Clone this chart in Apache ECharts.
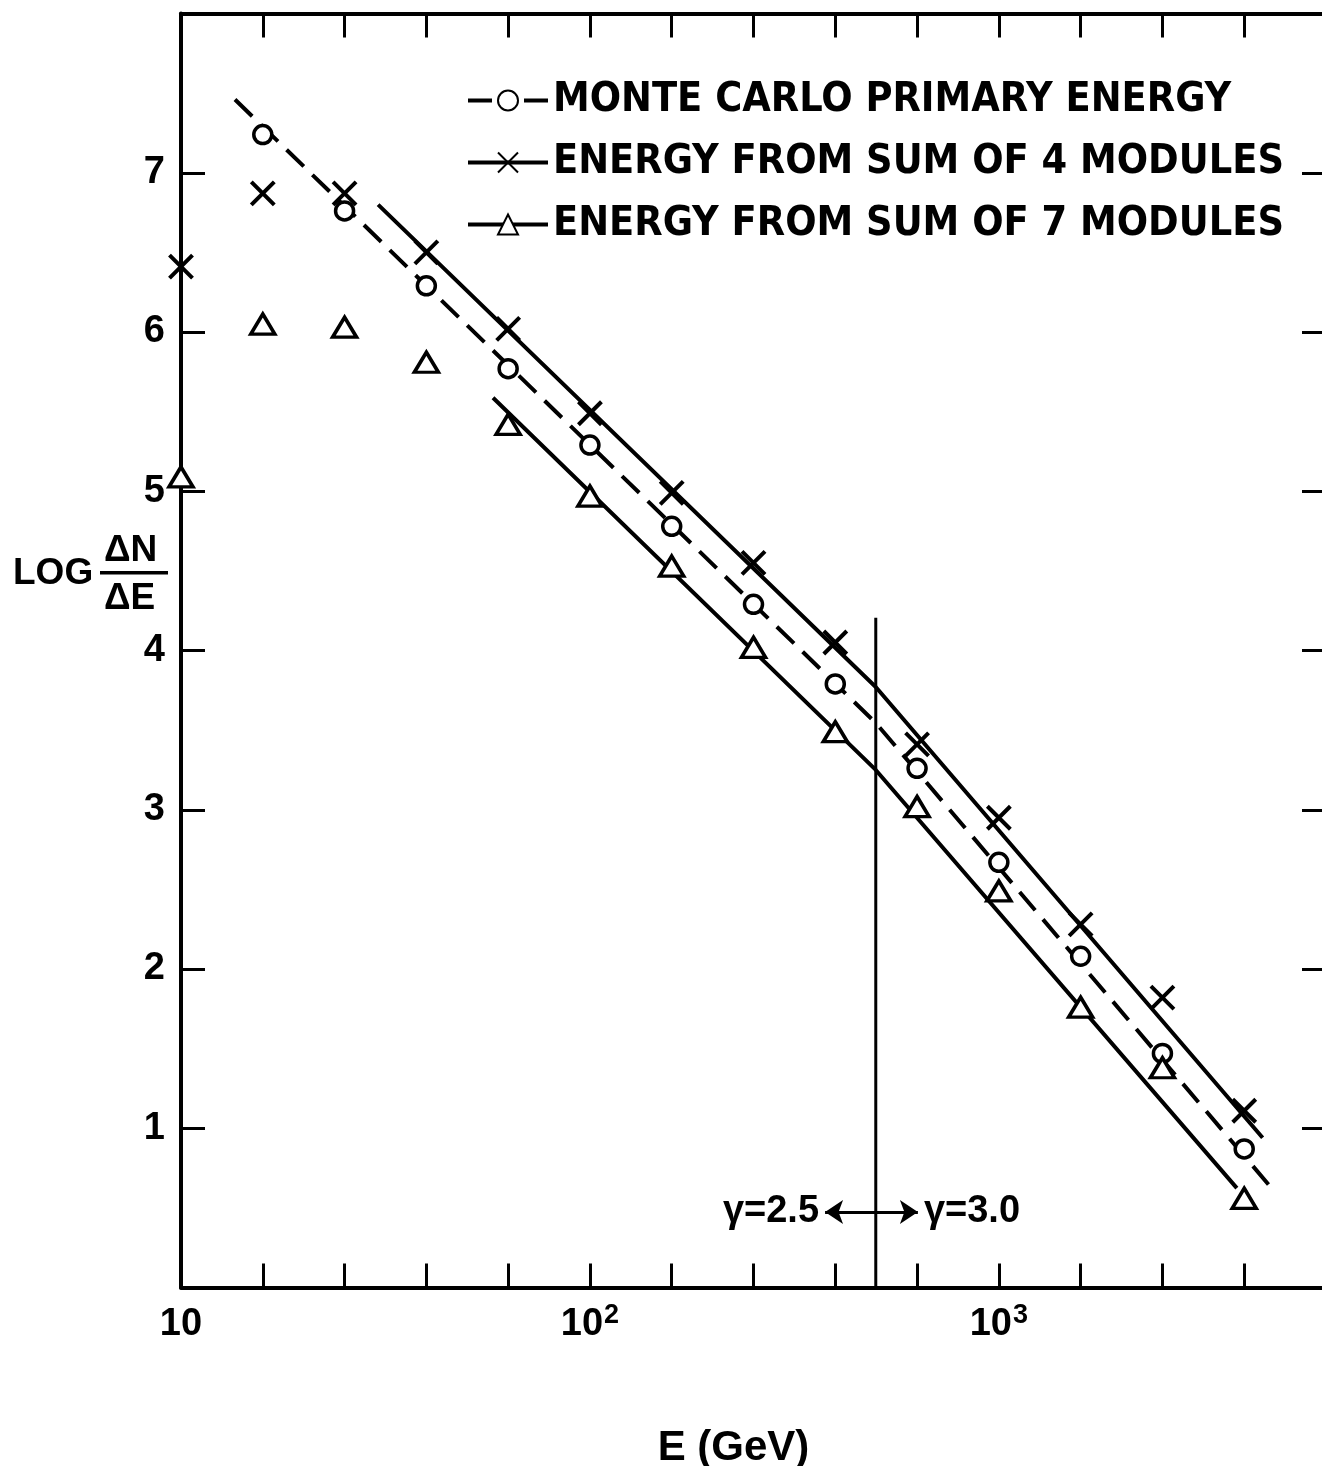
<!DOCTYPE html>
<html><head><meta charset="utf-8">
<script src="https://cdn.jsdelivr.net/npm/echarts@6/dist/echarts.min.js"></script>
<style>html,body{margin:0;padding:0;background:#fff}#c{width:1322px;height:1466px}</style>
</head><body><div id="c"></div>
<script>
// log10(E / GeV) positions of the measured points (0.2-decade steps)
const logE = [1.0, 1.2, 1.4, 1.6, 1.8, 2.0, 2.2, 2.4, 2.6, 2.8, 3.0, 3.2, 3.4, 3.6];
// LOG dN/dE values
const mcPrimary = [null, 7.24, 6.76, 6.29, 5.77, 5.29, 4.78, 4.29, 3.79, 3.26, 2.67, 2.08, 1.47, 0.87];
const sum4Modules = [6.41, 6.87, 6.87, 6.50, 6.02, 5.49, 4.99, 4.55, 4.05, 3.41, 2.95, 2.28, 1.82, 1.11];
const sum7Modules = [5.09, 6.05, 6.03, 5.81, 5.42, 4.97, 4.53, 4.02, 3.49, 3.02, 2.49, 1.76, 1.38, 0.56];
// fitted broken power laws (gamma 2.5 below the break, 3.0 above)
const fitMCx = [1.132, 2.699, 3.675];
const fitMCy = [7.46, 3.545, 0.60];
const fit4x = [1.482, 2.699, 3.645];
const fit4y = [6.80, 3.771, 0.94];
const fit7x = [1.763, 2.699, 3.582];
const fit7y = [5.587, 3.25, 0.624];
// break energy marker (vertical line) and spectral-index annotation
const breakX = [2.699, 2.699];
const breakY = [0, 4.205];
const gammaArrowY = 0.474;
const gammaArrowTips = [2.575, 2.802];
const gammaLabels = ['γ=2.5', 'γ=3.0'];
const seriesNames = ['MONTE CARLO PRIMARY ENERGY', 'ENERGY FROM SUM OF 4 MODULES', 'ENERGY FROM SUM OF 7 MODULES'];
const yTickLabels = ['1', '2', '3', '4', '5', '6', '7'];
// x tick labels at whole decades: base and exponent
const xDecadeBase = '10';
const xDecadeExponents = {1: '', 2: '2', 3: '3'};

const FONT = "'Liberation Sans', 'DejaVu Sans', sans-serif";
const NARROW = "'DejaVu Sans Condensed', 'Liberation Sans', sans-serif";
const K = '#000';

function pairs(xs, ys) { return xs.map((x, i) => [x, ys[i]]); }
function pts(ys) { return logE.map((x, i) => ys[i] == null ? null : [x, ys[i]]).filter(Boolean); }

const crossPath = 'path://M0,0L20,20M20,0L0,20';

const chart = echarts.init(document.getElementById('c'), null, {renderer: 'canvas'});
const xCommon = {
  type: 'value', min: 1, max: 3.8, interval: 0.2,
  axisLine: {show: true, onZero: false, lineStyle: {color: K, width: 4}},
  axisTick: {show: true, inside: true, length: 24, lineStyle: {color: K, width: 3}},
  splitLine: {show: false}
};
const yCommon = {
  type: 'value', min: 0, max: 8, interval: 1,
  axisLine: {show: true, onZero: false, lineStyle: {color: K, width: 4}},
  axisTick: {show: true, inside: true, length: 24, lineStyle: {color: K, width: 3}},
  splitLine: {show: false}
};

const option = {
  backgroundColor: '#fff',
  animation: false,
  grid: {left: 181, right: -4, top: 13.5, bottom: 178.5, containLabel: false, outerBoundsMode: 'none'},
  xAxis: [
    Object.assign({}, xCommon, {
      position: 'bottom',
      name: 'E (GeV)', nameLocation: 'middle', nameGap: 140,
      nameTextStyle: {fontFamily: FONT, fontWeight: 'bold', fontSize: 42, color: K, padding: [0, 40, 0, 0]},
      axisLabel: {
        show: true, margin: 16, showMinLabel: true, showMaxLabel: false,
        formatter: function (v) {
          const r = Math.round(v);
          if (Math.abs(v - r) > 1e-6 || !(r in xDecadeExponents)) return '';
          const e = xDecadeExponents[r];
          return e === '' ? '{b|' + xDecadeBase + '}' : '{b|' + xDecadeBase + '}{s|' + e + '}';
        },
        rich: {
          b: {fontFamily: FONT, fontWeight: 'bold', fontSize: 38, color: K, lineHeight: 40, verticalAlign: 'bottom'},
          s: {fontFamily: FONT, fontWeight: 'bold', fontSize: 27, color: K, lineHeight: 40, verticalAlign: 'bottom', padding: [0, 0, 14, 1]}
        }
      }
    }),
    Object.assign({}, xCommon, {position: 'top', axisLabel: {show: false}})
  ],
  yAxis: [
    Object.assign({}, yCommon, {
      position: 'left',
      axisLabel: {
        show: true, margin: 16, fontFamily: FONT, fontWeight: 'bold', fontSize: 38, color: K,
        formatter: function (v) { return v >= 1 && v <= 7 ? yTickLabels[v - 1] : ''; }
      }
    }),
    Object.assign({}, yCommon, {position: 'right', axisLabel: {show: false}})
  ],
  legend: {
    show: true, orient: 'vertical', left: 466, top: 80, padding: 0,
    itemWidth: 80, itemHeight: 25, itemGap: 21,
    textStyle: {fontFamily: NARROW, fontWeight: 'bold', fontSize: 41, color: K},
    selectedMode: false,
    data: [
      {name: seriesNames[0], lineStyle: {color: K, width: 4, type: [24, 32], opacity: 1}},
      {name: seriesNames[1], lineStyle: {color: K, width: 4, type: 'solid', opacity: 1}},
      {name: seriesNames[2], lineStyle: {color: K, width: 4, type: 'solid', opacity: 1}}
    ]
  },
  series: [
    {type: 'line', name: 'fitMC', data: pairs(fitMCx, fitMCy), symbol: 'none', z: 2,
     lineStyle: {color: K, width: 4, type: [24, 12]}, silent: true},
    {type: 'line', name: 'fit4', data: pairs(fit4x, fit4y), symbol: 'none', z: 2,
     lineStyle: {color: K, width: 4, type: 'solid'}, silent: true},
    {type: 'line', name: 'fit7', data: pairs(fit7x, fit7y), symbol: 'none', z: 2,
     lineStyle: {color: K, width: 4, type: 'solid'}, silent: true},
    {type: 'line', name: 'break', data: pairs(breakX, breakY), symbol: 'none', z: 2,
     lineStyle: {color: K, width: 3}, silent: true,
     markLine: {
       silent: true, symbol: ['none', 'arrow'], symbolSize: [18, 18],
       lineStyle: {color: K, width: 3, type: 'solid'},
       label: {show: true, position: 'end', distance: 6, formatter: '{b}',
               fontFamily: FONT, fontWeight: 'bold', fontSize: 38, color: K},
       data: [
         [{coord: [breakX[0], gammaArrowY]}, {coord: [gammaArrowTips[0], gammaArrowY], name: gammaLabels[0]}],
         [{coord: [breakX[0], gammaArrowY]}, {coord: [gammaArrowTips[1], gammaArrowY], name: gammaLabels[1]}]
       ]
     }},
    {type: 'line', name: seriesNames[0], data: pts(mcPrimary), z: 5,
     symbol: 'circle', symbolSize: 18,
     itemStyle: {color: '#fff', borderColor: K, borderWidth: 3.5},
     lineStyle: {opacity: 0, width: 0}},
    {type: 'line', name: seriesNames[1], data: pts(sum4Modules), z: 5,
     symbol: crossPath, symbolSize: 23,
     itemStyle: {color: K, borderColor: K, borderWidth: 4},
     lineStyle: {opacity: 0, width: 0}},
    {type: 'line', name: seriesNames[2], data: pts(sum7Modules), z: 5,
     symbol: 'triangle', symbolSize: [24, 20],
     itemStyle: {color: '#fff', borderColor: K, borderWidth: 3.5},
     lineStyle: {opacity: 0, width: 0}}
  ],
  graphic: [
    {type: 'text', left: 13, top: 555, style: {text: 'LOG', font: 'bold 37px ' + FONT, fill: K}},
    {type: 'text', left: 104, top: 532, style: {text: 'ΔN', font: 'bold 37px ' + FONT, fill: K}},
    {type: 'rect', shape: {x: 100, y: 571, width: 68, height: 3.5}, style: {fill: K}},
    {type: 'text', left: 104, top: 580, style: {text: 'ΔE', font: 'bold 37px ' + FONT, fill: K}}
  ]
};
chart.setOption(option);
</script>
</body></html>
